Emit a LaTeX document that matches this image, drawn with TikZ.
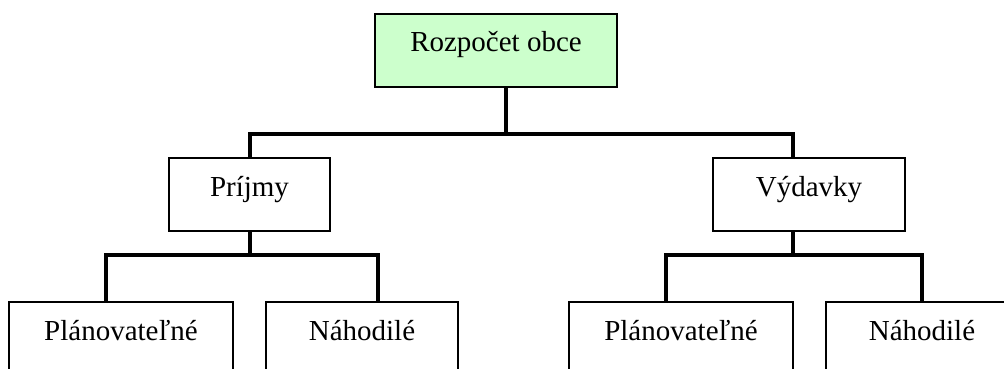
\documentclass[tikz,border=0pt]{standalone}
\usepackage{fontspec}
\setmainfont{Liberation Serif}
\definecolor{boxgreen}{HTML}{CCFFCC}
\begin{document}
\begin{tikzpicture}[x=1pt,y=-1pt,
  box/.style={draw=black, line width=1.6pt, fill=white, inner sep=0pt,
    text height=38pt, text depth=35pt, align=center,
    font=\fontsize{29}{34}\selectfont},
  conn/.style={draw=black, line width=4pt, line join=miter, line cap=rect}]
\path[use as bounding box, clip] (0,0) rectangle (1004,369);
\node[box, fill=boxgreen, minimum width=242pt] (top) at (496,50.5) {Rozpočet obce};
\node[box, minimum width=161pt] (prijmy) at (249.5,194.5) {Príjmy};
\node[box, minimum width=192pt] (vydavky) at (809,194.5) {Výdavky};
\node[box, minimum width=224pt] (pplan) at (121,338.5) {Plánovateľné};
\node[box, minimum width=192pt] (pnah) at (362,338.5) {Náhodilé};
\node[box, minimum width=224pt] (vplan) at (681,338.5) {Plánovateľné};
\node[box, minimum width=192pt] (vnah) at (922,338.5) {Náhodilé};
% junction coordinates
\coordinate (j0) at (506,134);
\coordinate (a1) at (249.5,134);
\coordinate (a2) at (793,134);
\coordinate (b0) at (249.5,255);
\coordinate (b1) at (106,255);
\coordinate (b2) at (378,255);
\coordinate (c0) at (793,255);
\coordinate (c1) at (666,255);
\coordinate (c2) at (922,255);
% connectors
\draw[conn] (top.south -| j0) -- (j0);
\draw[conn] (prijmy.north -| a1) -- (a1) -- (a2) -- (vydavky.north -| a2);
\draw[conn] (prijmy.south) -- (b0);
\draw[conn] (pplan.north -| b1) -- (b1) -- (b2) -- (pnah.north -| b2);
\draw[conn] (vydavky.south -| c0) -- (c0);
\draw[conn] (vplan.north -| c1) -- (c1) -- (c2) -- (vnah.north -| c2);
\end{tikzpicture}
\end{document}
